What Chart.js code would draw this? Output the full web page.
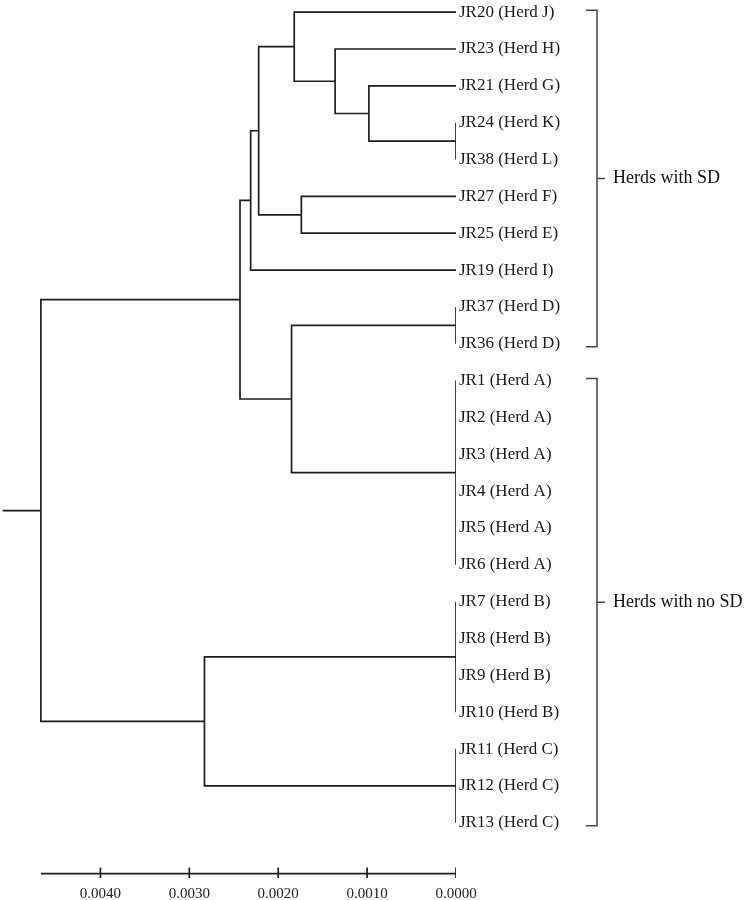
<!DOCTYPE html>
<html>
<head>
<meta charset="utf-8">
<script src="https://cdn.jsdelivr.net/npm/chart.js@4.4.1/dist/chart.umd.min.js"></script>
<style>
  body { margin: 0; background: #fff; }
  #wrap { width: 750px; height: 900px; }
  .preload { font-family: "Liberation Serif"; position: absolute; left: -999px; top: 0; }
</style>
</head>
<body>
<span class="preload">JR20 (Herd J) 0.0040</span>
<div id="wrap"><canvas id="tree" width="750" height="900"></canvas></div>
<script>
/* ==========================================================
   DATA
========================================================== */
const leaves = [
    "JR20 (Herd J)", "JR23 (Herd H)", "JR21 (Herd G)", "JR24 (Herd K)",
    "JR38 (Herd L)", "JR27 (Herd F)", "JR25 (Herd E)", "JR19 (Herd I)",
    "JR37 (Herd D)", "JR36 (Herd D)", "JR1 (Herd A)", "JR2 (Herd A)",
    "JR3 (Herd A)", "JR4 (Herd A)", "JR5 (Herd A)", "JR6 (Herd A)",
    "JR7 (Herd B)", "JR8 (Herd B)", "JR9 (Herd B)", "JR10 (Herd B)",
    "JR11 (Herd C)", "JR12 (Herd C)", "JR13 (Herd C)"
];

// internal nodes get ids 23, 24, ... in this order; children are leaf or node ids
const nodeKids = [
    [3, 4], [2, 23], [1, 24], [0, 25], [5, 6], [26, 27], [28, 7],
    [8, 9], [10, 11, 12, 13, 14, 15], [30, 31], [29, 32],
    [16, 17, 18, 19], [20, 21, 22], [34, 35], [33, 36]
];
const nodeHeights = [
    0, 0.00098, 0.00136, 0.00182, 0.00174, 0.00222, 0.00231,
    0, 0, 0.00185, 0.00243,
    0, 0, 0.00283, 0.00467
];
const rootStub = 0.0051;

const tickValues = [0.004, 0.003, 0.002, 0.001, 0];

const groupNames = ["Herds with SD", "Herds with no SD"];
const groupFirst = [0, 10];
const groupLast = [9, 22];

const axisLevel = 23.38;   // y value of the distance axis line

/* ==========================================================
   BUILD SEGMENTS
========================================================== */
const pos = leaves.map((_, i) => ({ x: 0, y: i }));
nodeKids.forEach((kids, n) => {
    const a = pos[kids[0]], b = pos[kids[kids.length - 1]];
    pos.push({ x: nodeHeights[n], y: (a.y + b.y) / 2 });
});

const lineColor = "#1e1e1e";
const datasets = [];

function addLine(points) {
    datasets.push({
        data: points,
        showLine: true,
        borderColor: lineColor,
        borderWidth: 1.7,
        pointRadius: 0,
        fill: false,
        tension: 0
    });
}

nodeKids.forEach((kids, n) => {
    const h = nodeHeights[n];
    const a = pos[kids[0]], b = pos[kids[kids.length - 1]];
    addLine([
        { x: a.x, y: a.y }, { x: h, y: a.y },
        { x: h, y: b.y }, { x: b.x, y: b.y }
    ]);
    kids.slice(1, -1).forEach(k => {
        if (pos[k].x !== h) addLine([{ x: pos[k].x, y: pos[k].y }, { x: h, y: pos[k].y }]);
    });
});

const root = pos[pos.length - 1];
addLine([{ x: root.x, y: root.y }, { x: rootStub, y: root.y }]);

// distance axis line + tick marks
addLine([{ x: root.x, y: axisLevel }, { x: 0, y: axisLevel }]);
datasets.push({
    data: tickValues.map(v => ({ x: v, y: axisLevel })),
    showLine: false,
    pointStyle: "line",
    rotation: 90,
    pointRadius: 6,
    borderWidth: 1.7,
    borderColor: lineColor
});

/* ==========================================================
   BRACKETS
========================================================== */
const serif = '"Liberation Serif", "Times New Roman", serif';

const bracketPlugin = {
    id: "brackets",
    afterDraw(chart) {
        const ctx = chart.ctx;
        const ys = chart.scales.y;
        const r = chart.chartArea.right;
        ctx.save();
        ctx.strokeStyle = "#444";
        ctx.lineWidth = 1.5;
        ctx.fillStyle = "#111";
        ctx.font = "18px " + serif;
        ctx.textBaseline = "middle";
        groupNames.forEach((name, g) => {
            const top = ys.getPixelForValue(groupFirst[g]) - 2;
            const bot = ys.getPixelForValue(groupLast[g]) + 3;
            const mid = (top + bot) / 2;
            ctx.beginPath();
            ctx.moveTo(r + 130, top);
            ctx.lineTo(r + 141, top);
            ctx.lineTo(r + 141, bot);
            ctx.lineTo(r + 130, bot);
            ctx.moveTo(r + 141, mid);
            ctx.lineTo(r + 149, mid);
            ctx.stroke();
            ctx.fillText(name, r + 157, mid);
        });
        ctx.restore();
    }
};

/* ==========================================================
   CHART
========================================================== */
function noPad(s) {
    s.paddingLeft = 0;
    s.paddingRight = 0;
    s.paddingTop = 0;
    s.paddingBottom = 0;
}

function drawTree() {
    new Chart(document.getElementById("tree").getContext("2d"), {
        type: "scatter",
        data: { datasets },
        options: {
            responsive: false,
            animation: false,
            layout: { padding: 0, autoPadding: false },
            plugins: { legend: { display: false }, tooltip: { enabled: false } },
            scales: {
                x: {
                    type: "linear",
                    reverse: true,
                    min: 0,
                    max: 0.00513,
                    position: "bottom",
                    grid: { display: false, drawTicks: false },
                    border: { display: false },
                    afterBuildTicks: s => { s.ticks = tickValues.map(v => ({ value: v })); },
                    afterFit: s => { noPad(s); s.height = 22; },
                    ticks: {
                        color: "#222",
                        padding: 7,
                        maxRotation: 0,
                        font: { family: serif, size: 15 },
                        callback: v => Number(v).toFixed(4)
                    }
                },
                y: {
                    type: "linear",
                    position: "right",
                    reverse: true,
                    min: -0.33,
                    max: 23.5,
                    grid: { display: false, drawTicks: false },
                    border: { display: false },
                    afterBuildTicks: s => { s.ticks = leaves.map((_, i) => ({ value: i })); },
                    afterFit: s => { noPad(s); s.width = 294; },
                    ticks: {
                        color: "#1a1a1a",
                        padding: 3,
                        autoSkip: false,
                        font: { family: serif, size: 17 },
                        callback: v => leaves[v]
                    }
                }
            }
        },
        plugins: [bracketPlugin]
    });
}

if (document.fonts && document.fonts.load) {
    Promise.all([
        document.fonts.load('17px "Liberation Serif"'),
        document.fonts.load('18px "Liberation Serif"')
    ]).then(drawTree, drawTree);
} else {
    drawTree();
}
</script>
</body>
</html>
